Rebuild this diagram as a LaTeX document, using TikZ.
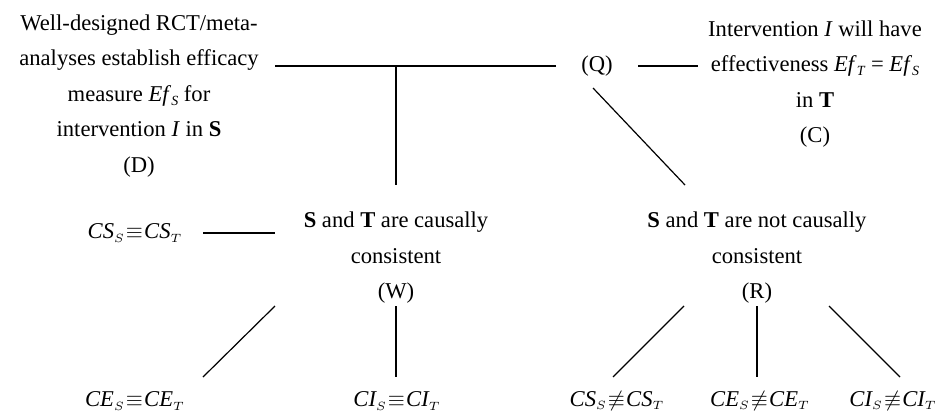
\documentclass[tikz,border=0pt]{standalone}
\usepackage{fontspec}
\setmainfont{Liberation Serif}
\usetikzlibrary{calc}
\newcommand{\subit}[1]{\raisebox{-0.35ex}{\scriptsize\textit{#1}}}
\newcommand{\eqrel}[4]{$\mathit{#1}_{\scriptscriptstyle #2}\mkern1mu{#3}\mkern1mu\mathit{#1}_{\scriptscriptstyle #4}$}
\begin{document}
\begin{tikzpicture}[x=0.5pt,y=-0.5pt,
  lbl/.style={align=center,inner sep=0pt,font=\fontsize{11.3}{17.75}\selectfont},
  conn/.style={line width=0.6pt,black}]
\useasboundingbox (0,0) rectangle (940,412);
\node[lbl] (D) at (139,96) {Well-designed RCT/meta-\\analyses establish efficacy\\measure \textit{Ef}\subit{S} for\\intervention \textit{I} in \textbf{S}\\(D)};
\node[lbl] (Q) at (597,66) {(Q)};
\node[lbl] (C) at (815,84) {Intervention \textit{I} will have\\effectiveness \textit{Ef}\subit{T} = \textit{Ef}\subit{S}\\in \textbf{T}\\(C)};
\node[lbl] (W) at (396,258) {\textbf{S} and \textbf{T} are causally\\consistent\\(W)};
\node[lbl] (R) at (757,258) {\textbf{S} and \textbf{T} are not causally\\consistent\\(R)};
\node[lbl] (CSeq) at (135,233) {\eqrel{CS}{S}{\equiv}{T}};
\node[lbl] (CEeq) at (135,401) {\eqrel{CE}{S}{\equiv}{T}};
\node[lbl] (CIeq) at (397,401) {\eqrel{CI}{S}{\equiv}{T}};
\node[lbl] (CSne) at (617,401) {\eqrel{CS}{S}{\not\equiv}{T}};
\node[lbl] (CEne) at (760,401) {\eqrel{CE}{S}{\not\equiv}{T}};
\node[lbl] (CIne) at (893,401) {\eqrel{CI}{S}{\not\equiv}{T}};
\coordinate (J) at ($(W)+(0,-192)$);
\draw[conn] ($(Q)+(-41,0)$) -- ($(D)+(136,-30)$);
\draw[conn] ($(Q)+(41,0)$) -- ($(C)+(-117,-18)$);
\draw[conn] (J) -- ($(W)+(0,-73)$);
\draw[conn] ($(Q)+(-4,22)$) -- ($(R)+(-72,-73)$);
\draw[conn] ($(CSeq)+(68,0)$) -- ($(W)+(-121,-25)$);
\draw[conn] ($(W)+(-121,48)$) -- ($(CEeq)+(68,-24)$);
\draw[conn] ($(W)+(0,48)$) -- ($(CIeq)+(-1,-24)$);
\draw[conn] ($(R)+(-73,48)$) -- ($(CSne)+(-4,-24)$);
\draw[conn] ($(R)+(0,48)$) -- ($(CEne)+(-3,-24)$);
\draw[conn] ($(R)+(72,48)$) -- ($(CIne)+(7,-24)$);
\end{tikzpicture}
\end{document}
